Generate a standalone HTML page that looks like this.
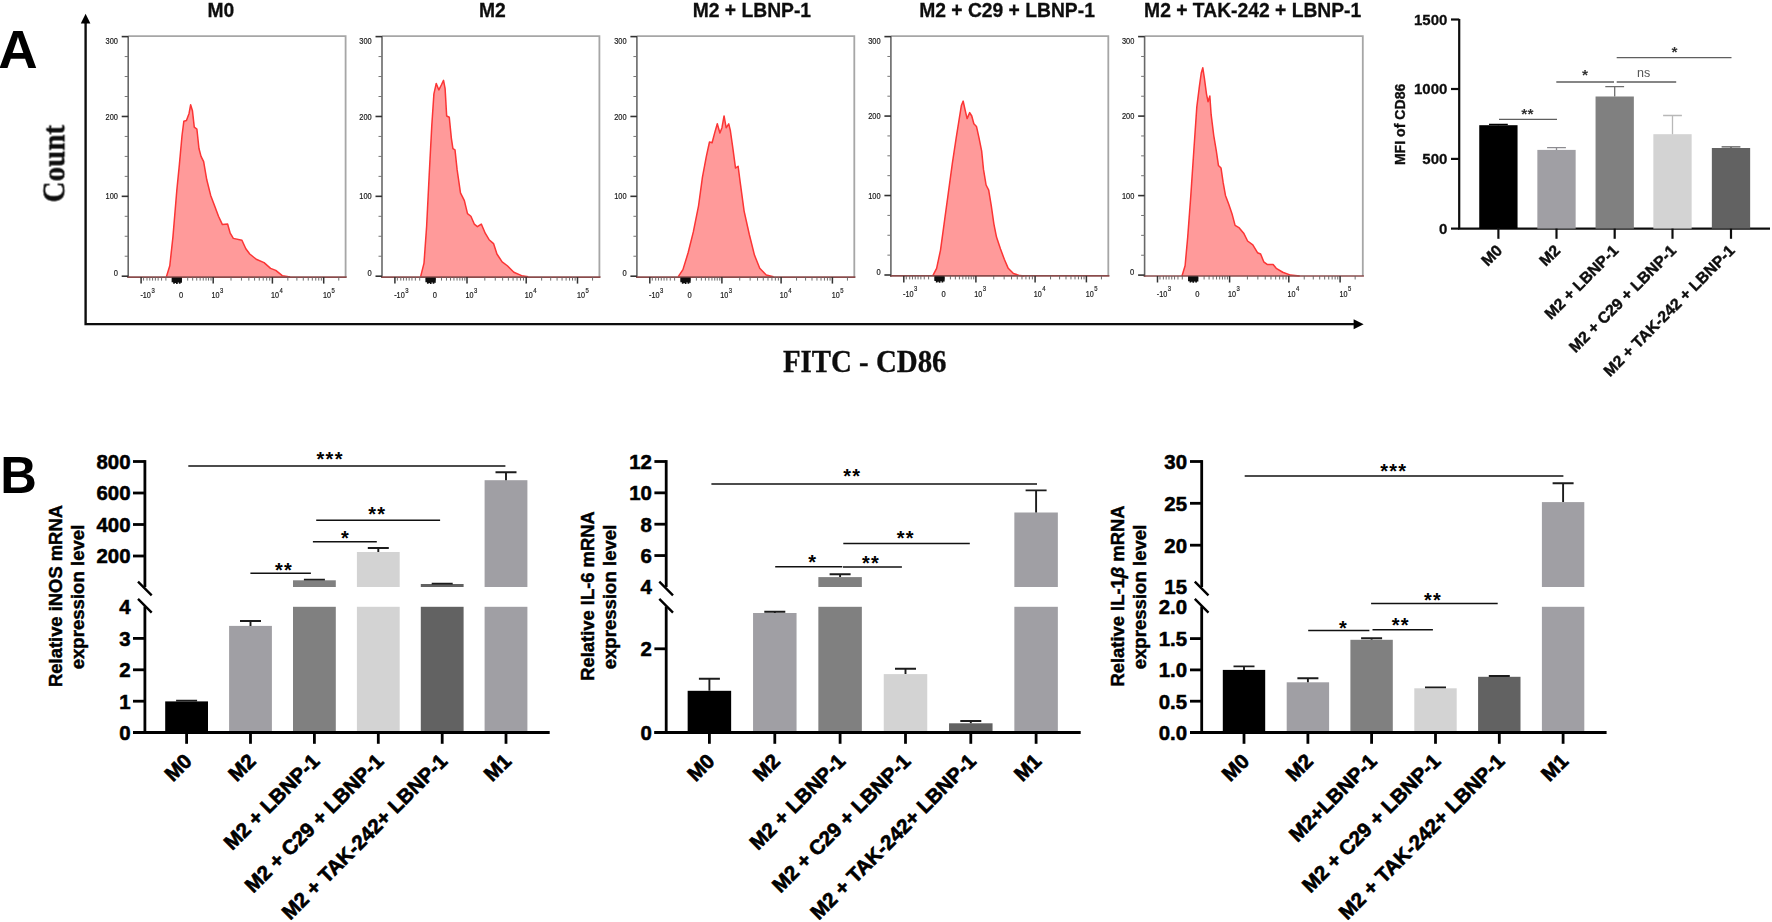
<!DOCTYPE html>
<html lang="en"><head><meta charset="utf-8"><title>Figure</title>
<style>html,body{margin:0;padding:0;background:#fff;}body{width:1772px;height:922px;overflow:hidden;}svg{display:block;}svg text{font-family:'Liberation Sans', Arial, Helvetica, sans-serif;}svg text.serif{font-family:'Liberation Serif', 'Times New Roman', Times, serif;}</style>
</head><body>
<svg width="1772" height="922" viewBox="0 0 1772 922">
<defs><filter id="soft" x="-2%" y="-2%" width="104%" height="104%"><feGaussianBlur stdDeviation="0.55"/></filter><filter id="soft2" x="-5%" y="-5%" width="110%" height="110%"><feGaussianBlur stdDeviation="0.4"/></filter></defs>
<rect width="1772" height="922" fill="#fff"/>
<text transform="translate(-1.7 68.2) scale(1.03 1)" font-size="53" font-weight="700" fill="#000">A</text>
<text transform="translate(0.3 493.1) scale(0.975 1)" font-size="52" font-weight="700" fill="#000">B</text>
<g filter="url(#soft)">
<path d="M166.41 276.67 L169.79 265.73 L172.92 237.08 L176.82 190.21 L179.43 164.17 L182.03 135.52 L183.85 121.2 L186.46 120.42 L189.06 113.39 L190.62 104.79 L192.45 110.78 L194.27 127.19 L196.88 129.01 L198.96 148.54 L201.04 156.35 L203.65 161.56 L206.77 179.79 L210.68 195.42 L214.58 205.83 L218.49 216.25 L222.4 224.58 L227.6 224.06 L230.21 233.18 L233.33 238.39 L241.93 240.21 L245.83 248.8 L249.74 254.01 L256.25 259.22 L264.06 262.6 L270.57 268.33 L275.78 270.42 L282.29 275.62 L290.1 276.93 L290.1 277.1 L166.41 277.1 Z" fill="#ff9a9a" stroke="none"/>
<path d="M128.2 36.1 H345.6 V277.1" fill="none" stroke="#a6a6a6" stroke-width="1.8"/>
<path d="M128.2 36.1 V277.9" fill="none" stroke="#686868" stroke-width="1.6"/>
<path d="M166.41 276.67 L169.79 265.73 L172.92 237.08 L176.82 190.21 L179.43 164.17 L182.03 135.52 L183.85 121.2 L186.46 120.42 L189.06 113.39 L190.62 104.79 L192.45 110.78 L194.27 127.19 L196.88 129.01 L198.96 148.54 L201.04 156.35 L203.65 161.56 L206.77 179.79 L210.68 195.42 L214.58 205.83 L218.49 216.25 L222.4 224.58 L227.6 224.06 L230.21 233.18 L233.33 238.39 L241.93 240.21 L245.83 248.8 L249.74 254.01 L256.25 259.22 L264.06 262.6 L270.57 268.33 L275.78 270.42 L282.29 275.62 L290.1 276.93" fill="none" stroke="#fb3434" stroke-width="1.5" stroke-linejoin="round"/>
<path d="M127.3 277.1 H346.7" stroke="#8a4c4c" stroke-width="1.7" fill="none"/>
<path d="M121.7 276.2 H128.2" stroke="#333" stroke-width="1.6"/>
<text x="117.9" y="276.1" font-size="8.6" text-anchor="end" textLength="4.2" lengthAdjust="spacingAndGlyphs" fill="#1a1a1a" stroke="#1a1a1a" stroke-width="0.2">0</text>
<path d="M124.7 256.23 H128.2" stroke="#777" stroke-width="1"/>
<path d="M124.7 236.27 H128.2" stroke="#777" stroke-width="1"/>
<path d="M124.7 216.3 H128.2" stroke="#777" stroke-width="1"/>
<path d="M121.7 196.33 H128.2" stroke="#333" stroke-width="1.6"/>
<text x="117.9" y="199.43" font-size="8.6" text-anchor="end" textLength="12.4" lengthAdjust="spacingAndGlyphs" fill="#1a1a1a" stroke="#1a1a1a" stroke-width="0.2">100</text>
<path d="M124.7 176.37 H128.2" stroke="#777" stroke-width="1"/>
<path d="M124.7 156.4 H128.2" stroke="#777" stroke-width="1"/>
<path d="M124.7 136.43 H128.2" stroke="#777" stroke-width="1"/>
<path d="M121.7 116.47 H128.2" stroke="#333" stroke-width="1.6"/>
<text x="117.9" y="119.57" font-size="8.6" text-anchor="end" textLength="12.4" lengthAdjust="spacingAndGlyphs" fill="#1a1a1a" stroke="#1a1a1a" stroke-width="0.2">200</text>
<path d="M124.7 96.5 H128.2" stroke="#777" stroke-width="1"/>
<path d="M124.7 76.53 H128.2" stroke="#777" stroke-width="1"/>
<path d="M124.7 56.57 H128.2" stroke="#777" stroke-width="1"/>
<path d="M121.7 36.6 H128.2" stroke="#333" stroke-width="1.6"/>
<text x="117.9" y="43.9" font-size="8.6" text-anchor="end" textLength="12.4" lengthAdjust="spacingAndGlyphs" fill="#1a1a1a" stroke="#1a1a1a" stroke-width="0.2">300</text>
<path d="M141.1 277.1 V283.6" stroke="#333" stroke-width="1.5"/>
<path d="M213.2 277.1 V283.6" stroke="#333" stroke-width="1.5"/>
<path d="M272.4 277.1 V283.6" stroke="#333" stroke-width="1.5"/>
<path d="M323.7 277.1 V283.6" stroke="#333" stroke-width="1.5"/>
<path d="M172.5 277.7 v4.6 M174 277.7 v6 M175.5 277.7 v5.2 M176.9 277.7 v6.2 M178.3 277.7 v4.8 M179.7 277.7 v6 M181.1 277.7 v5" stroke="#0c0c0c" stroke-width="1.7" fill="none"/>
<path d="M172.1 279.1 H181.7" stroke="#0c0c0c" stroke-width="2.6"/>
<path d="M143.58 277.1 V280.6" stroke="#666" stroke-width="0.95"/>
<path d="M146.99 277.1 V280.6" stroke="#666" stroke-width="0.95"/>
<path d="M149.78 277.1 V280.6" stroke="#666" stroke-width="0.95"/>
<path d="M152.57 277.1 V280.6" stroke="#666" stroke-width="0.95"/>
<path d="M155.36 277.1 V280.6" stroke="#666" stroke-width="0.95"/>
<path d="M158.15 277.1 V280.6" stroke="#666" stroke-width="0.95"/>
<path d="M161.56 277.1 V280.6" stroke="#666" stroke-width="0.95"/>
<path d="M165.9 277.1 V280.6" stroke="#666" stroke-width="0.95"/>
<path d="M187.7 277.1 V280.6" stroke="#666" stroke-width="0.95"/>
<path d="M192.67 277.1 V280.6" stroke="#666" stroke-width="0.95"/>
<path d="M196.72 277.1 V280.6" stroke="#666" stroke-width="0.95"/>
<path d="M200.14 277.1 V280.6" stroke="#666" stroke-width="0.95"/>
<path d="M203.25 277.1 V280.6" stroke="#666" stroke-width="0.95"/>
<path d="M206.05 277.1 V280.6" stroke="#666" stroke-width="0.95"/>
<path d="M208.53 277.1 V280.6" stroke="#666" stroke-width="0.95"/>
<path d="M211.02 277.1 V280.6" stroke="#666" stroke-width="0.95"/>
<path d="M231.02 277.1 V280.6" stroke="#666" stroke-width="0.95"/>
<path d="M241.45 277.1 V280.6" stroke="#666" stroke-width="0.95"/>
<path d="M248.84 277.1 V280.6" stroke="#666" stroke-width="0.95"/>
<path d="M254.58 277.1 V280.6" stroke="#666" stroke-width="0.95"/>
<path d="M259.27 277.1 V280.6" stroke="#666" stroke-width="0.95"/>
<path d="M263.23 277.1 V280.6" stroke="#666" stroke-width="0.95"/>
<path d="M266.66 277.1 V280.6" stroke="#666" stroke-width="0.95"/>
<path d="M269.69 277.1 V280.6" stroke="#666" stroke-width="0.95"/>
<path d="M287.84 277.1 V280.6" stroke="#666" stroke-width="0.95"/>
<path d="M296.88 277.1 V280.6" stroke="#666" stroke-width="0.95"/>
<path d="M303.29 277.1 V280.6" stroke="#666" stroke-width="0.95"/>
<path d="M308.26 277.1 V280.6" stroke="#666" stroke-width="0.95"/>
<path d="M312.32 277.1 V280.6" stroke="#666" stroke-width="0.95"/>
<path d="M315.75 277.1 V280.6" stroke="#666" stroke-width="0.95"/>
<path d="M318.73 277.1 V280.6" stroke="#666" stroke-width="0.95"/>
<path d="M321.35 277.1 V280.6" stroke="#666" stroke-width="0.95"/>
<path d="M338.75 277.1 V280.6" stroke="#666" stroke-width="0.95"/>
<text x="150.9" y="297.8" font-size="8.6" text-anchor="end" textLength="10.5" lengthAdjust="spacingAndGlyphs" fill="#1a1a1a" stroke="#1a1a1a" stroke-width="0.2">-10</text><text x="151.4" y="292.5" font-size="8" text-anchor="start" textLength="3.3" lengthAdjust="spacingAndGlyphs" fill="#1a1a1a" stroke="#1a1a1a" stroke-width="0.2">3</text>
<text x="181" y="297.8" font-size="8.6" text-anchor="middle" textLength="4.2" lengthAdjust="spacingAndGlyphs" fill="#1a1a1a" stroke="#1a1a1a" stroke-width="0.2">0</text>
<text x="219.6" y="297.8" font-size="8.6" text-anchor="end" textLength="8" lengthAdjust="spacingAndGlyphs" fill="#1a1a1a" stroke="#1a1a1a" stroke-width="0.2">10</text><text x="220.1" y="292.5" font-size="8" text-anchor="start" textLength="3.3" lengthAdjust="spacingAndGlyphs" fill="#1a1a1a" stroke="#1a1a1a" stroke-width="0.2">3</text>
<text x="279" y="297.8" font-size="8.6" text-anchor="end" textLength="8" lengthAdjust="spacingAndGlyphs" fill="#1a1a1a" stroke="#1a1a1a" stroke-width="0.2">10</text><text x="279.5" y="292.5" font-size="8" text-anchor="start" textLength="3.3" lengthAdjust="spacingAndGlyphs" fill="#1a1a1a" stroke="#1a1a1a" stroke-width="0.2">4</text>
<text x="331.1" y="297.8" font-size="8.6" text-anchor="end" textLength="8" lengthAdjust="spacingAndGlyphs" fill="#1a1a1a" stroke="#1a1a1a" stroke-width="0.2">10</text><text x="331.6" y="292.5" font-size="8" text-anchor="start" textLength="3.3" lengthAdjust="spacingAndGlyphs" fill="#1a1a1a" stroke="#1a1a1a" stroke-width="0.2">5</text>
<text x="220.9" y="16.5" font-size="19.3" font-weight="700" text-anchor="middle" fill="#111" stroke="#111" stroke-width="0.3">M0</text>
<path d="M420.62 276.67 L424.01 263.12 L426.61 226.67 L429.22 174.58 L431.82 125.1 L433.91 93.85 L436.25 83.44 L438.85 89.95 L441.46 84.74 L443.54 80.31 L445.1 88.65 L446.67 115.99 L449.27 117.29 L451.35 138.12 L452.92 148.54 L455 149.84 L457.08 169.38 L460.47 192.81 L464.38 200.62 L467.5 213.65 L470.89 216.25 L474.27 224.06 L477.4 226.67 L481.3 224.06 L485.21 233.18 L489.11 239.69 L493.54 243.59 L496.93 254.01 L502.14 261.82 L507.34 265.73 L513.85 272.24 L521.67 275.62 L528.18 276.67 L528.18 277.1 L420.62 277.1 Z" fill="#ff9a9a" stroke="none"/>
<path d="M382 36.1 H599.4 V277.1" fill="none" stroke="#a6a6a6" stroke-width="1.8"/>
<path d="M382 36.1 V277.9" fill="none" stroke="#686868" stroke-width="1.6"/>
<path d="M420.62 276.67 L424.01 263.12 L426.61 226.67 L429.22 174.58 L431.82 125.1 L433.91 93.85 L436.25 83.44 L438.85 89.95 L441.46 84.74 L443.54 80.31 L445.1 88.65 L446.67 115.99 L449.27 117.29 L451.35 138.12 L452.92 148.54 L455 149.84 L457.08 169.38 L460.47 192.81 L464.38 200.62 L467.5 213.65 L470.89 216.25 L474.27 224.06 L477.4 226.67 L481.3 224.06 L485.21 233.18 L489.11 239.69 L493.54 243.59 L496.93 254.01 L502.14 261.82 L507.34 265.73 L513.85 272.24 L521.67 275.62 L528.18 276.67" fill="none" stroke="#fb3434" stroke-width="1.5" stroke-linejoin="round"/>
<path d="M381.1 277.1 H600.5" stroke="#8a4c4c" stroke-width="1.7" fill="none"/>
<path d="M375.5 276.2 H382" stroke="#333" stroke-width="1.6"/>
<text x="371.7" y="276.1" font-size="8.6" text-anchor="end" textLength="4.2" lengthAdjust="spacingAndGlyphs" fill="#1a1a1a" stroke="#1a1a1a" stroke-width="0.2">0</text>
<path d="M378.5 256.23 H382" stroke="#777" stroke-width="1"/>
<path d="M378.5 236.27 H382" stroke="#777" stroke-width="1"/>
<path d="M378.5 216.3 H382" stroke="#777" stroke-width="1"/>
<path d="M375.5 196.33 H382" stroke="#333" stroke-width="1.6"/>
<text x="371.7" y="199.43" font-size="8.6" text-anchor="end" textLength="12.4" lengthAdjust="spacingAndGlyphs" fill="#1a1a1a" stroke="#1a1a1a" stroke-width="0.2">100</text>
<path d="M378.5 176.37 H382" stroke="#777" stroke-width="1"/>
<path d="M378.5 156.4 H382" stroke="#777" stroke-width="1"/>
<path d="M378.5 136.43 H382" stroke="#777" stroke-width="1"/>
<path d="M375.5 116.47 H382" stroke="#333" stroke-width="1.6"/>
<text x="371.7" y="119.57" font-size="8.6" text-anchor="end" textLength="12.4" lengthAdjust="spacingAndGlyphs" fill="#1a1a1a" stroke="#1a1a1a" stroke-width="0.2">200</text>
<path d="M378.5 96.5 H382" stroke="#777" stroke-width="1"/>
<path d="M378.5 76.53 H382" stroke="#777" stroke-width="1"/>
<path d="M378.5 56.57 H382" stroke="#777" stroke-width="1"/>
<path d="M375.5 36.6 H382" stroke="#333" stroke-width="1.6"/>
<text x="371.7" y="43.9" font-size="8.6" text-anchor="end" textLength="12.4" lengthAdjust="spacingAndGlyphs" fill="#1a1a1a" stroke="#1a1a1a" stroke-width="0.2">300</text>
<path d="M394.9 277.1 V283.6" stroke="#333" stroke-width="1.5"/>
<path d="M467 277.1 V283.6" stroke="#333" stroke-width="1.5"/>
<path d="M526.2 277.1 V283.6" stroke="#333" stroke-width="1.5"/>
<path d="M577.5 277.1 V283.6" stroke="#333" stroke-width="1.5"/>
<path d="M426.3 277.7 v4.6 M427.8 277.7 v6 M429.3 277.7 v5.2 M430.7 277.7 v6.2 M432.1 277.7 v4.8 M433.5 277.7 v6 M434.9 277.7 v5" stroke="#0c0c0c" stroke-width="1.7" fill="none"/>
<path d="M425.9 279.1 H435.5" stroke="#0c0c0c" stroke-width="2.6"/>
<path d="M397.38 277.1 V280.6" stroke="#666" stroke-width="0.95"/>
<path d="M400.79 277.1 V280.6" stroke="#666" stroke-width="0.95"/>
<path d="M403.58 277.1 V280.6" stroke="#666" stroke-width="0.95"/>
<path d="M406.37 277.1 V280.6" stroke="#666" stroke-width="0.95"/>
<path d="M409.16 277.1 V280.6" stroke="#666" stroke-width="0.95"/>
<path d="M411.95 277.1 V280.6" stroke="#666" stroke-width="0.95"/>
<path d="M415.36 277.1 V280.6" stroke="#666" stroke-width="0.95"/>
<path d="M419.7 277.1 V280.6" stroke="#666" stroke-width="0.95"/>
<path d="M441.5 277.1 V280.6" stroke="#666" stroke-width="0.95"/>
<path d="M446.47 277.1 V280.6" stroke="#666" stroke-width="0.95"/>
<path d="M450.52 277.1 V280.6" stroke="#666" stroke-width="0.95"/>
<path d="M453.94 277.1 V280.6" stroke="#666" stroke-width="0.95"/>
<path d="M457.05 277.1 V280.6" stroke="#666" stroke-width="0.95"/>
<path d="M459.85 277.1 V280.6" stroke="#666" stroke-width="0.95"/>
<path d="M462.34 277.1 V280.6" stroke="#666" stroke-width="0.95"/>
<path d="M464.82 277.1 V280.6" stroke="#666" stroke-width="0.95"/>
<path d="M484.82 277.1 V280.6" stroke="#666" stroke-width="0.95"/>
<path d="M495.25 277.1 V280.6" stroke="#666" stroke-width="0.95"/>
<path d="M502.64 277.1 V280.6" stroke="#666" stroke-width="0.95"/>
<path d="M508.38 277.1 V280.6" stroke="#666" stroke-width="0.95"/>
<path d="M513.07 277.1 V280.6" stroke="#666" stroke-width="0.95"/>
<path d="M517.03 277.1 V280.6" stroke="#666" stroke-width="0.95"/>
<path d="M520.46 277.1 V280.6" stroke="#666" stroke-width="0.95"/>
<path d="M523.49 277.1 V280.6" stroke="#666" stroke-width="0.95"/>
<path d="M541.64 277.1 V280.6" stroke="#666" stroke-width="0.95"/>
<path d="M550.68 277.1 V280.6" stroke="#666" stroke-width="0.95"/>
<path d="M557.09 277.1 V280.6" stroke="#666" stroke-width="0.95"/>
<path d="M562.06 277.1 V280.6" stroke="#666" stroke-width="0.95"/>
<path d="M566.12 277.1 V280.6" stroke="#666" stroke-width="0.95"/>
<path d="M569.55 277.1 V280.6" stroke="#666" stroke-width="0.95"/>
<path d="M572.53 277.1 V280.6" stroke="#666" stroke-width="0.95"/>
<path d="M575.15 277.1 V280.6" stroke="#666" stroke-width="0.95"/>
<path d="M592.55 277.1 V280.6" stroke="#666" stroke-width="0.95"/>
<text x="404.7" y="297.8" font-size="8.6" text-anchor="end" textLength="10.5" lengthAdjust="spacingAndGlyphs" fill="#1a1a1a" stroke="#1a1a1a" stroke-width="0.2">-10</text><text x="405.2" y="292.5" font-size="8" text-anchor="start" textLength="3.3" lengthAdjust="spacingAndGlyphs" fill="#1a1a1a" stroke="#1a1a1a" stroke-width="0.2">3</text>
<text x="434.8" y="297.8" font-size="8.6" text-anchor="middle" textLength="4.2" lengthAdjust="spacingAndGlyphs" fill="#1a1a1a" stroke="#1a1a1a" stroke-width="0.2">0</text>
<text x="473.4" y="297.8" font-size="8.6" text-anchor="end" textLength="8" lengthAdjust="spacingAndGlyphs" fill="#1a1a1a" stroke="#1a1a1a" stroke-width="0.2">10</text><text x="473.9" y="292.5" font-size="8" text-anchor="start" textLength="3.3" lengthAdjust="spacingAndGlyphs" fill="#1a1a1a" stroke="#1a1a1a" stroke-width="0.2">3</text>
<text x="532.8" y="297.8" font-size="8.6" text-anchor="end" textLength="8" lengthAdjust="spacingAndGlyphs" fill="#1a1a1a" stroke="#1a1a1a" stroke-width="0.2">10</text><text x="533.3" y="292.5" font-size="8" text-anchor="start" textLength="3.3" lengthAdjust="spacingAndGlyphs" fill="#1a1a1a" stroke="#1a1a1a" stroke-width="0.2">4</text>
<text x="584.9" y="297.8" font-size="8.6" text-anchor="end" textLength="8" lengthAdjust="spacingAndGlyphs" fill="#1a1a1a" stroke="#1a1a1a" stroke-width="0.2">10</text><text x="585.4" y="292.5" font-size="8" text-anchor="start" textLength="3.3" lengthAdjust="spacingAndGlyphs" fill="#1a1a1a" stroke="#1a1a1a" stroke-width="0.2">5</text>
<text x="492.3" y="16.5" font-size="19.3" font-weight="700" text-anchor="middle" fill="#111" stroke="#111" stroke-width="0.3">M2</text>
<path d="M678.23 276.67 L682.92 269.64 L688.12 252.71 L693.33 231.88 L698.54 205.83 L702.45 177.19 L706.35 156.35 L709.48 142.03 L712.08 142.81 L714.69 132.92 L717.29 123.8 L719.9 132.92 L721.98 127.71 L724.06 115.99 L726.15 127.71 L728.75 123.8 L730.31 130.31 L732.92 148.54 L735.52 168.07 L738.12 166.25 L740.21 182.4 L744.11 211.04 L749.32 234.48 L754.53 255.31 L759.74 268.33 L766.25 275.1 L773.54 276.67 L773.54 277.1 L678.23 277.1 Z" fill="#ff9a9a" stroke="none"/>
<path d="M636.9 36.1 H854.3 V277.1" fill="none" stroke="#a6a6a6" stroke-width="1.8"/>
<path d="M636.9 36.1 V277.9" fill="none" stroke="#686868" stroke-width="1.6"/>
<path d="M678.23 276.67 L682.92 269.64 L688.12 252.71 L693.33 231.88 L698.54 205.83 L702.45 177.19 L706.35 156.35 L709.48 142.03 L712.08 142.81 L714.69 132.92 L717.29 123.8 L719.9 132.92 L721.98 127.71 L724.06 115.99 L726.15 127.71 L728.75 123.8 L730.31 130.31 L732.92 148.54 L735.52 168.07 L738.12 166.25 L740.21 182.4 L744.11 211.04 L749.32 234.48 L754.53 255.31 L759.74 268.33 L766.25 275.1 L773.54 276.67" fill="none" stroke="#fb3434" stroke-width="1.5" stroke-linejoin="round"/>
<path d="M636 277.1 H855.4" stroke="#8a4c4c" stroke-width="1.7" fill="none"/>
<path d="M630.4 276.2 H636.9" stroke="#333" stroke-width="1.6"/>
<text x="626.6" y="276.1" font-size="8.6" text-anchor="end" textLength="4.2" lengthAdjust="spacingAndGlyphs" fill="#1a1a1a" stroke="#1a1a1a" stroke-width="0.2">0</text>
<path d="M633.4 256.23 H636.9" stroke="#777" stroke-width="1"/>
<path d="M633.4 236.27 H636.9" stroke="#777" stroke-width="1"/>
<path d="M633.4 216.3 H636.9" stroke="#777" stroke-width="1"/>
<path d="M630.4 196.33 H636.9" stroke="#333" stroke-width="1.6"/>
<text x="626.6" y="199.43" font-size="8.6" text-anchor="end" textLength="12.4" lengthAdjust="spacingAndGlyphs" fill="#1a1a1a" stroke="#1a1a1a" stroke-width="0.2">100</text>
<path d="M633.4 176.37 H636.9" stroke="#777" stroke-width="1"/>
<path d="M633.4 156.4 H636.9" stroke="#777" stroke-width="1"/>
<path d="M633.4 136.43 H636.9" stroke="#777" stroke-width="1"/>
<path d="M630.4 116.47 H636.9" stroke="#333" stroke-width="1.6"/>
<text x="626.6" y="119.57" font-size="8.6" text-anchor="end" textLength="12.4" lengthAdjust="spacingAndGlyphs" fill="#1a1a1a" stroke="#1a1a1a" stroke-width="0.2">200</text>
<path d="M633.4 96.5 H636.9" stroke="#777" stroke-width="1"/>
<path d="M633.4 76.53 H636.9" stroke="#777" stroke-width="1"/>
<path d="M633.4 56.57 H636.9" stroke="#777" stroke-width="1"/>
<path d="M630.4 36.6 H636.9" stroke="#333" stroke-width="1.6"/>
<text x="626.6" y="43.9" font-size="8.6" text-anchor="end" textLength="12.4" lengthAdjust="spacingAndGlyphs" fill="#1a1a1a" stroke="#1a1a1a" stroke-width="0.2">300</text>
<path d="M649.8 277.1 V283.6" stroke="#333" stroke-width="1.5"/>
<path d="M721.9 277.1 V283.6" stroke="#333" stroke-width="1.5"/>
<path d="M781.1 277.1 V283.6" stroke="#333" stroke-width="1.5"/>
<path d="M832.4 277.1 V283.6" stroke="#333" stroke-width="1.5"/>
<path d="M681.2 277.7 v4.6 M682.7 277.7 v6 M684.2 277.7 v5.2 M685.6 277.7 v6.2 M687 277.7 v4.8 M688.4 277.7 v6 M689.8 277.7 v5" stroke="#0c0c0c" stroke-width="1.7" fill="none"/>
<path d="M680.8 279.1 H690.4" stroke="#0c0c0c" stroke-width="2.6"/>
<path d="M652.28 277.1 V280.6" stroke="#666" stroke-width="0.95"/>
<path d="M655.69 277.1 V280.6" stroke="#666" stroke-width="0.95"/>
<path d="M658.48 277.1 V280.6" stroke="#666" stroke-width="0.95"/>
<path d="M661.27 277.1 V280.6" stroke="#666" stroke-width="0.95"/>
<path d="M664.06 277.1 V280.6" stroke="#666" stroke-width="0.95"/>
<path d="M666.85 277.1 V280.6" stroke="#666" stroke-width="0.95"/>
<path d="M670.26 277.1 V280.6" stroke="#666" stroke-width="0.95"/>
<path d="M674.6 277.1 V280.6" stroke="#666" stroke-width="0.95"/>
<path d="M696.4 277.1 V280.6" stroke="#666" stroke-width="0.95"/>
<path d="M701.37 277.1 V280.6" stroke="#666" stroke-width="0.95"/>
<path d="M705.42 277.1 V280.6" stroke="#666" stroke-width="0.95"/>
<path d="M708.84 277.1 V280.6" stroke="#666" stroke-width="0.95"/>
<path d="M711.95 277.1 V280.6" stroke="#666" stroke-width="0.95"/>
<path d="M714.75 277.1 V280.6" stroke="#666" stroke-width="0.95"/>
<path d="M717.24 277.1 V280.6" stroke="#666" stroke-width="0.95"/>
<path d="M719.72 277.1 V280.6" stroke="#666" stroke-width="0.95"/>
<path d="M739.72 277.1 V280.6" stroke="#666" stroke-width="0.95"/>
<path d="M750.15 277.1 V280.6" stroke="#666" stroke-width="0.95"/>
<path d="M757.54 277.1 V280.6" stroke="#666" stroke-width="0.95"/>
<path d="M763.28 277.1 V280.6" stroke="#666" stroke-width="0.95"/>
<path d="M767.97 277.1 V280.6" stroke="#666" stroke-width="0.95"/>
<path d="M771.93 277.1 V280.6" stroke="#666" stroke-width="0.95"/>
<path d="M775.36 277.1 V280.6" stroke="#666" stroke-width="0.95"/>
<path d="M778.39 277.1 V280.6" stroke="#666" stroke-width="0.95"/>
<path d="M796.54 277.1 V280.6" stroke="#666" stroke-width="0.95"/>
<path d="M805.58 277.1 V280.6" stroke="#666" stroke-width="0.95"/>
<path d="M811.99 277.1 V280.6" stroke="#666" stroke-width="0.95"/>
<path d="M816.96 277.1 V280.6" stroke="#666" stroke-width="0.95"/>
<path d="M821.02 277.1 V280.6" stroke="#666" stroke-width="0.95"/>
<path d="M824.45 277.1 V280.6" stroke="#666" stroke-width="0.95"/>
<path d="M827.43 277.1 V280.6" stroke="#666" stroke-width="0.95"/>
<path d="M830.05 277.1 V280.6" stroke="#666" stroke-width="0.95"/>
<path d="M847.45 277.1 V280.6" stroke="#666" stroke-width="0.95"/>
<text x="659.6" y="297.8" font-size="8.6" text-anchor="end" textLength="10.5" lengthAdjust="spacingAndGlyphs" fill="#1a1a1a" stroke="#1a1a1a" stroke-width="0.2">-10</text><text x="660.1" y="292.5" font-size="8" text-anchor="start" textLength="3.3" lengthAdjust="spacingAndGlyphs" fill="#1a1a1a" stroke="#1a1a1a" stroke-width="0.2">3</text>
<text x="689.7" y="297.8" font-size="8.6" text-anchor="middle" textLength="4.2" lengthAdjust="spacingAndGlyphs" fill="#1a1a1a" stroke="#1a1a1a" stroke-width="0.2">0</text>
<text x="728.3" y="297.8" font-size="8.6" text-anchor="end" textLength="8" lengthAdjust="spacingAndGlyphs" fill="#1a1a1a" stroke="#1a1a1a" stroke-width="0.2">10</text><text x="728.8" y="292.5" font-size="8" text-anchor="start" textLength="3.3" lengthAdjust="spacingAndGlyphs" fill="#1a1a1a" stroke="#1a1a1a" stroke-width="0.2">3</text>
<text x="787.7" y="297.8" font-size="8.6" text-anchor="end" textLength="8" lengthAdjust="spacingAndGlyphs" fill="#1a1a1a" stroke="#1a1a1a" stroke-width="0.2">10</text><text x="788.2" y="292.5" font-size="8" text-anchor="start" textLength="3.3" lengthAdjust="spacingAndGlyphs" fill="#1a1a1a" stroke="#1a1a1a" stroke-width="0.2">4</text>
<text x="839.8" y="297.8" font-size="8.6" text-anchor="end" textLength="8" lengthAdjust="spacingAndGlyphs" fill="#1a1a1a" stroke="#1a1a1a" stroke-width="0.2">10</text><text x="840.3" y="292.5" font-size="8" text-anchor="start" textLength="3.3" lengthAdjust="spacingAndGlyphs" fill="#1a1a1a" stroke="#1a1a1a" stroke-width="0.2">5</text>
<text x="751.9" y="16.5" font-size="19.3" font-weight="700" text-anchor="middle" fill="#111" stroke="#111" stroke-width="0.3">M2 + LBNP-1</text>
<path d="M932.71 275.9 L936.61 268.33 L940.52 250.1 L944.43 221.46 L948.33 192.81 L952.24 164.17 L956.15 138.12 L959.27 118.59 L961.35 105.57 L963.18 101.15 L965 109.48 L967.08 118.59 L969.69 112.6 L971.77 115.99 L973.85 123.8 L976.46 126.41 L979.06 138.12 L981.67 151.15 L983.49 169.38 L986.09 185 L988.7 190.21 L991.3 205.83 L993.91 224.06 L996.51 237.08 L1000.42 248.8 L1004.32 259.22 L1008.23 268.33 L1013.44 273.54 L1019.95 275.62 L1024.38 275.9 L1024.38 275.9 L932.71 275.9 Z" fill="#ff9a9a" stroke="none"/>
<path d="M890.9 36.1 H1108.3 V275.9" fill="none" stroke="#a6a6a6" stroke-width="1.8"/>
<path d="M890.9 36.1 V276.7" fill="none" stroke="#686868" stroke-width="1.6"/>
<path d="M932.71 275.9 L936.61 268.33 L940.52 250.1 L944.43 221.46 L948.33 192.81 L952.24 164.17 L956.15 138.12 L959.27 118.59 L961.35 105.57 L963.18 101.15 L965 109.48 L967.08 118.59 L969.69 112.6 L971.77 115.99 L973.85 123.8 L976.46 126.41 L979.06 138.12 L981.67 151.15 L983.49 169.38 L986.09 185 L988.7 190.21 L991.3 205.83 L993.91 224.06 L996.51 237.08 L1000.42 248.8 L1004.32 259.22 L1008.23 268.33 L1013.44 273.54 L1019.95 275.62 L1024.38 275.9" fill="none" stroke="#fb3434" stroke-width="1.5" stroke-linejoin="round"/>
<path d="M890 275.9 H1109.4" stroke="#8a4c4c" stroke-width="1.7" fill="none"/>
<path d="M884.4 275 H890.9" stroke="#333" stroke-width="1.6"/>
<text x="880.6" y="274.9" font-size="8.6" text-anchor="end" textLength="4.2" lengthAdjust="spacingAndGlyphs" fill="#1a1a1a" stroke="#1a1a1a" stroke-width="0.2">0</text>
<path d="M887.4 255.13 H890.9" stroke="#777" stroke-width="1"/>
<path d="M887.4 235.27 H890.9" stroke="#777" stroke-width="1"/>
<path d="M887.4 215.4 H890.9" stroke="#777" stroke-width="1"/>
<path d="M884.4 195.53 H890.9" stroke="#333" stroke-width="1.6"/>
<text x="880.6" y="198.63" font-size="8.6" text-anchor="end" textLength="12.4" lengthAdjust="spacingAndGlyphs" fill="#1a1a1a" stroke="#1a1a1a" stroke-width="0.2">100</text>
<path d="M887.4 175.67 H890.9" stroke="#777" stroke-width="1"/>
<path d="M887.4 155.8 H890.9" stroke="#777" stroke-width="1"/>
<path d="M887.4 135.93 H890.9" stroke="#777" stroke-width="1"/>
<path d="M884.4 116.07 H890.9" stroke="#333" stroke-width="1.6"/>
<text x="880.6" y="119.17" font-size="8.6" text-anchor="end" textLength="12.4" lengthAdjust="spacingAndGlyphs" fill="#1a1a1a" stroke="#1a1a1a" stroke-width="0.2">200</text>
<path d="M887.4 96.2 H890.9" stroke="#777" stroke-width="1"/>
<path d="M887.4 76.33 H890.9" stroke="#777" stroke-width="1"/>
<path d="M887.4 56.47 H890.9" stroke="#777" stroke-width="1"/>
<path d="M884.4 36.6 H890.9" stroke="#333" stroke-width="1.6"/>
<text x="880.6" y="43.9" font-size="8.6" text-anchor="end" textLength="12.4" lengthAdjust="spacingAndGlyphs" fill="#1a1a1a" stroke="#1a1a1a" stroke-width="0.2">300</text>
<path d="M903.8 275.9 V282.4" stroke="#333" stroke-width="1.5"/>
<path d="M975.9 275.9 V282.4" stroke="#333" stroke-width="1.5"/>
<path d="M1035.1 275.9 V282.4" stroke="#333" stroke-width="1.5"/>
<path d="M1086.4 275.9 V282.4" stroke="#333" stroke-width="1.5"/>
<path d="M935.2 276.5 v4.6 M936.7 276.5 v6 M938.2 276.5 v5.2 M939.6 276.5 v6.2 M941 276.5 v4.8 M942.4 276.5 v6 M943.8 276.5 v5" stroke="#0c0c0c" stroke-width="1.7" fill="none"/>
<path d="M934.8 277.9 H944.4" stroke="#0c0c0c" stroke-width="2.6"/>
<path d="M906.28 275.9 V279.4" stroke="#666" stroke-width="0.95"/>
<path d="M909.69 275.9 V279.4" stroke="#666" stroke-width="0.95"/>
<path d="M912.48 275.9 V279.4" stroke="#666" stroke-width="0.95"/>
<path d="M915.27 275.9 V279.4" stroke="#666" stroke-width="0.95"/>
<path d="M918.06 275.9 V279.4" stroke="#666" stroke-width="0.95"/>
<path d="M920.85 275.9 V279.4" stroke="#666" stroke-width="0.95"/>
<path d="M924.26 275.9 V279.4" stroke="#666" stroke-width="0.95"/>
<path d="M928.6 275.9 V279.4" stroke="#666" stroke-width="0.95"/>
<path d="M950.4 275.9 V279.4" stroke="#666" stroke-width="0.95"/>
<path d="M955.37 275.9 V279.4" stroke="#666" stroke-width="0.95"/>
<path d="M959.42 275.9 V279.4" stroke="#666" stroke-width="0.95"/>
<path d="M962.84 275.9 V279.4" stroke="#666" stroke-width="0.95"/>
<path d="M965.95 275.9 V279.4" stroke="#666" stroke-width="0.95"/>
<path d="M968.75 275.9 V279.4" stroke="#666" stroke-width="0.95"/>
<path d="M971.24 275.9 V279.4" stroke="#666" stroke-width="0.95"/>
<path d="M973.72 275.9 V279.4" stroke="#666" stroke-width="0.95"/>
<path d="M993.72 275.9 V279.4" stroke="#666" stroke-width="0.95"/>
<path d="M1004.15 275.9 V279.4" stroke="#666" stroke-width="0.95"/>
<path d="M1011.54 275.9 V279.4" stroke="#666" stroke-width="0.95"/>
<path d="M1017.28 275.9 V279.4" stroke="#666" stroke-width="0.95"/>
<path d="M1021.97 275.9 V279.4" stroke="#666" stroke-width="0.95"/>
<path d="M1025.93 275.9 V279.4" stroke="#666" stroke-width="0.95"/>
<path d="M1029.36 275.9 V279.4" stroke="#666" stroke-width="0.95"/>
<path d="M1032.39 275.9 V279.4" stroke="#666" stroke-width="0.95"/>
<path d="M1050.54 275.9 V279.4" stroke="#666" stroke-width="0.95"/>
<path d="M1059.58 275.9 V279.4" stroke="#666" stroke-width="0.95"/>
<path d="M1065.99 275.9 V279.4" stroke="#666" stroke-width="0.95"/>
<path d="M1070.96 275.9 V279.4" stroke="#666" stroke-width="0.95"/>
<path d="M1075.02 275.9 V279.4" stroke="#666" stroke-width="0.95"/>
<path d="M1078.45 275.9 V279.4" stroke="#666" stroke-width="0.95"/>
<path d="M1081.43 275.9 V279.4" stroke="#666" stroke-width="0.95"/>
<path d="M1084.05 275.9 V279.4" stroke="#666" stroke-width="0.95"/>
<path d="M1101.45 275.9 V279.4" stroke="#666" stroke-width="0.95"/>
<text x="913.6" y="296.6" font-size="8.6" text-anchor="end" textLength="10.5" lengthAdjust="spacingAndGlyphs" fill="#1a1a1a" stroke="#1a1a1a" stroke-width="0.2">-10</text><text x="914.1" y="291.3" font-size="8" text-anchor="start" textLength="3.3" lengthAdjust="spacingAndGlyphs" fill="#1a1a1a" stroke="#1a1a1a" stroke-width="0.2">3</text>
<text x="943.7" y="296.6" font-size="8.6" text-anchor="middle" textLength="4.2" lengthAdjust="spacingAndGlyphs" fill="#1a1a1a" stroke="#1a1a1a" stroke-width="0.2">0</text>
<text x="982.3" y="296.6" font-size="8.6" text-anchor="end" textLength="8" lengthAdjust="spacingAndGlyphs" fill="#1a1a1a" stroke="#1a1a1a" stroke-width="0.2">10</text><text x="982.8" y="291.3" font-size="8" text-anchor="start" textLength="3.3" lengthAdjust="spacingAndGlyphs" fill="#1a1a1a" stroke="#1a1a1a" stroke-width="0.2">3</text>
<text x="1041.7" y="296.6" font-size="8.6" text-anchor="end" textLength="8" lengthAdjust="spacingAndGlyphs" fill="#1a1a1a" stroke="#1a1a1a" stroke-width="0.2">10</text><text x="1042.2" y="291.3" font-size="8" text-anchor="start" textLength="3.3" lengthAdjust="spacingAndGlyphs" fill="#1a1a1a" stroke="#1a1a1a" stroke-width="0.2">4</text>
<text x="1093.8" y="296.6" font-size="8.6" text-anchor="end" textLength="8" lengthAdjust="spacingAndGlyphs" fill="#1a1a1a" stroke="#1a1a1a" stroke-width="0.2">10</text><text x="1094.3" y="291.3" font-size="8" text-anchor="start" textLength="3.3" lengthAdjust="spacingAndGlyphs" fill="#1a1a1a" stroke="#1a1a1a" stroke-width="0.2">5</text>
<text x="1007" y="16.5" font-size="19.3" font-weight="700" text-anchor="middle" fill="#111" stroke="#111" stroke-width="0.3">M2 + C29 + LBNP-1</text>
<path d="M1181.98 276 L1185.1 265.73 L1187.71 237.08 L1190.83 195.42 L1193.96 148.54 L1196.82 106.88 L1199.43 86.04 L1201.25 73.02 L1202.81 67.81 L1204.38 78.23 L1206.46 93.85 L1208.02 101.67 L1209.84 95.94 L1211.15 114.69 L1213.75 135.52 L1216.35 151.15 L1218.44 165.47 L1221.04 168.07 L1223.12 182.4 L1225.47 195.42 L1228.85 204.53 L1231.98 213.65 L1235.1 225.36 L1239.27 227.97 L1243.7 233.18 L1247.6 240.99 L1252.81 244.9 L1257.5 252.71 L1260.62 254.01 L1263.75 261.82 L1267.14 264.43 L1273.12 264.43 L1276.25 268.33 L1282.76 272.24 L1290.57 275.1 L1299.69 276 L1299.69 276 L1181.98 276 Z" fill="#ff9a9a" stroke="none"/>
<path d="M1144.6 36.1 H1362.8 V276" fill="none" stroke="#a6a6a6" stroke-width="1.8"/>
<path d="M1144.6 36.1 V276.8" fill="none" stroke="#686868" stroke-width="1.6"/>
<path d="M1181.98 276 L1185.1 265.73 L1187.71 237.08 L1190.83 195.42 L1193.96 148.54 L1196.82 106.88 L1199.43 86.04 L1201.25 73.02 L1202.81 67.81 L1204.38 78.23 L1206.46 93.85 L1208.02 101.67 L1209.84 95.94 L1211.15 114.69 L1213.75 135.52 L1216.35 151.15 L1218.44 165.47 L1221.04 168.07 L1223.12 182.4 L1225.47 195.42 L1228.85 204.53 L1231.98 213.65 L1235.1 225.36 L1239.27 227.97 L1243.7 233.18 L1247.6 240.99 L1252.81 244.9 L1257.5 252.71 L1260.62 254.01 L1263.75 261.82 L1267.14 264.43 L1273.12 264.43 L1276.25 268.33 L1282.76 272.24 L1290.57 275.1 L1299.69 276" fill="none" stroke="#fb3434" stroke-width="1.5" stroke-linejoin="round"/>
<path d="M1143.7 276 H1363.9" stroke="#8a4c4c" stroke-width="1.7" fill="none"/>
<path d="M1138.1 275.1 H1144.6" stroke="#333" stroke-width="1.6"/>
<text x="1134.3" y="275" font-size="8.6" text-anchor="end" textLength="4.2" lengthAdjust="spacingAndGlyphs" fill="#1a1a1a" stroke="#1a1a1a" stroke-width="0.2">0</text>
<path d="M1141.1 255.22 H1144.6" stroke="#777" stroke-width="1"/>
<path d="M1141.1 235.35 H1144.6" stroke="#777" stroke-width="1"/>
<path d="M1141.1 215.47 H1144.6" stroke="#777" stroke-width="1"/>
<path d="M1138.1 195.6 H1144.6" stroke="#333" stroke-width="1.6"/>
<text x="1134.3" y="198.7" font-size="8.6" text-anchor="end" textLength="12.4" lengthAdjust="spacingAndGlyphs" fill="#1a1a1a" stroke="#1a1a1a" stroke-width="0.2">100</text>
<path d="M1141.1 175.72 H1144.6" stroke="#777" stroke-width="1"/>
<path d="M1141.1 155.85 H1144.6" stroke="#777" stroke-width="1"/>
<path d="M1141.1 135.97 H1144.6" stroke="#777" stroke-width="1"/>
<path d="M1138.1 116.1 H1144.6" stroke="#333" stroke-width="1.6"/>
<text x="1134.3" y="119.2" font-size="8.6" text-anchor="end" textLength="12.4" lengthAdjust="spacingAndGlyphs" fill="#1a1a1a" stroke="#1a1a1a" stroke-width="0.2">200</text>
<path d="M1141.1 96.22 H1144.6" stroke="#777" stroke-width="1"/>
<path d="M1141.1 76.35 H1144.6" stroke="#777" stroke-width="1"/>
<path d="M1141.1 56.47 H1144.6" stroke="#777" stroke-width="1"/>
<path d="M1138.1 36.6 H1144.6" stroke="#333" stroke-width="1.6"/>
<text x="1134.3" y="43.9" font-size="8.6" text-anchor="end" textLength="12.4" lengthAdjust="spacingAndGlyphs" fill="#1a1a1a" stroke="#1a1a1a" stroke-width="0.2">300</text>
<path d="M1157.5 276 V282.5" stroke="#333" stroke-width="1.5"/>
<path d="M1229.6 276 V282.5" stroke="#333" stroke-width="1.5"/>
<path d="M1288.8 276 V282.5" stroke="#333" stroke-width="1.5"/>
<path d="M1340.1 276 V282.5" stroke="#333" stroke-width="1.5"/>
<path d="M1188.9 276.6 v4.6 M1190.4 276.6 v6 M1191.9 276.6 v5.2 M1193.3 276.6 v6.2 M1194.7 276.6 v4.8 M1196.1 276.6 v6 M1197.5 276.6 v5" stroke="#0c0c0c" stroke-width="1.7" fill="none"/>
<path d="M1188.5 278 H1198.1" stroke="#0c0c0c" stroke-width="2.6"/>
<path d="M1159.98 276 V279.5" stroke="#666" stroke-width="0.95"/>
<path d="M1163.39 276 V279.5" stroke="#666" stroke-width="0.95"/>
<path d="M1166.18 276 V279.5" stroke="#666" stroke-width="0.95"/>
<path d="M1168.97 276 V279.5" stroke="#666" stroke-width="0.95"/>
<path d="M1171.76 276 V279.5" stroke="#666" stroke-width="0.95"/>
<path d="M1174.55 276 V279.5" stroke="#666" stroke-width="0.95"/>
<path d="M1177.96 276 V279.5" stroke="#666" stroke-width="0.95"/>
<path d="M1182.3 276 V279.5" stroke="#666" stroke-width="0.95"/>
<path d="M1204.1 276 V279.5" stroke="#666" stroke-width="0.95"/>
<path d="M1209.07 276 V279.5" stroke="#666" stroke-width="0.95"/>
<path d="M1213.12 276 V279.5" stroke="#666" stroke-width="0.95"/>
<path d="M1216.54 276 V279.5" stroke="#666" stroke-width="0.95"/>
<path d="M1219.65 276 V279.5" stroke="#666" stroke-width="0.95"/>
<path d="M1222.45 276 V279.5" stroke="#666" stroke-width="0.95"/>
<path d="M1224.93 276 V279.5" stroke="#666" stroke-width="0.95"/>
<path d="M1227.42 276 V279.5" stroke="#666" stroke-width="0.95"/>
<path d="M1247.42 276 V279.5" stroke="#666" stroke-width="0.95"/>
<path d="M1257.85 276 V279.5" stroke="#666" stroke-width="0.95"/>
<path d="M1265.24 276 V279.5" stroke="#666" stroke-width="0.95"/>
<path d="M1270.98 276 V279.5" stroke="#666" stroke-width="0.95"/>
<path d="M1275.67 276 V279.5" stroke="#666" stroke-width="0.95"/>
<path d="M1279.63 276 V279.5" stroke="#666" stroke-width="0.95"/>
<path d="M1283.06 276 V279.5" stroke="#666" stroke-width="0.95"/>
<path d="M1286.09 276 V279.5" stroke="#666" stroke-width="0.95"/>
<path d="M1304.24 276 V279.5" stroke="#666" stroke-width="0.95"/>
<path d="M1313.28 276 V279.5" stroke="#666" stroke-width="0.95"/>
<path d="M1319.69 276 V279.5" stroke="#666" stroke-width="0.95"/>
<path d="M1324.66 276 V279.5" stroke="#666" stroke-width="0.95"/>
<path d="M1328.72 276 V279.5" stroke="#666" stroke-width="0.95"/>
<path d="M1332.15 276 V279.5" stroke="#666" stroke-width="0.95"/>
<path d="M1335.13 276 V279.5" stroke="#666" stroke-width="0.95"/>
<path d="M1337.75 276 V279.5" stroke="#666" stroke-width="0.95"/>
<path d="M1355.15 276 V279.5" stroke="#666" stroke-width="0.95"/>
<text x="1167.3" y="296.7" font-size="8.6" text-anchor="end" textLength="10.5" lengthAdjust="spacingAndGlyphs" fill="#1a1a1a" stroke="#1a1a1a" stroke-width="0.2">-10</text><text x="1167.8" y="291.4" font-size="8" text-anchor="start" textLength="3.3" lengthAdjust="spacingAndGlyphs" fill="#1a1a1a" stroke="#1a1a1a" stroke-width="0.2">3</text>
<text x="1197.4" y="296.7" font-size="8.6" text-anchor="middle" textLength="4.2" lengthAdjust="spacingAndGlyphs" fill="#1a1a1a" stroke="#1a1a1a" stroke-width="0.2">0</text>
<text x="1236" y="296.7" font-size="8.6" text-anchor="end" textLength="8" lengthAdjust="spacingAndGlyphs" fill="#1a1a1a" stroke="#1a1a1a" stroke-width="0.2">10</text><text x="1236.5" y="291.4" font-size="8" text-anchor="start" textLength="3.3" lengthAdjust="spacingAndGlyphs" fill="#1a1a1a" stroke="#1a1a1a" stroke-width="0.2">3</text>
<text x="1295.4" y="296.7" font-size="8.6" text-anchor="end" textLength="8" lengthAdjust="spacingAndGlyphs" fill="#1a1a1a" stroke="#1a1a1a" stroke-width="0.2">10</text><text x="1295.9" y="291.4" font-size="8" text-anchor="start" textLength="3.3" lengthAdjust="spacingAndGlyphs" fill="#1a1a1a" stroke="#1a1a1a" stroke-width="0.2">4</text>
<text x="1347.5" y="296.7" font-size="8.6" text-anchor="end" textLength="8" lengthAdjust="spacingAndGlyphs" fill="#1a1a1a" stroke="#1a1a1a" stroke-width="0.2">10</text><text x="1348" y="291.4" font-size="8" text-anchor="start" textLength="3.3" lengthAdjust="spacingAndGlyphs" fill="#1a1a1a" stroke="#1a1a1a" stroke-width="0.2">5</text>
<text x="1252.7" y="16.5" font-size="19.3" font-weight="700" text-anchor="middle" fill="#111" stroke="#111" stroke-width="0.3">M2 + TAK-242 + LBNP-1</text>
</g>
<g filter="url(#soft2)">
<path d="M85.6 22 V324.1 H1355" fill="none" stroke="#111" stroke-width="2.4" stroke-linejoin="miter"/>
<path d="M85.6 13.8 L90.4 23.6 L80.8 23.6 Z" fill="#000"/>
<path d="M1363.6 324.2 L1353.6 319.2 L1353.6 329.2 Z" fill="#000"/>
<text class="serif" transform="translate(64.6 163.6) rotate(-90) scale(1 1.08)" font-size="29" font-weight="700" text-anchor="middle" fill="#111" stroke="#111" stroke-width="0.35">Count</text>
<text class="serif" transform="translate(864.7 371.8) scale(1 1.07)" font-size="28.9" font-weight="700" text-anchor="middle" fill="#111" stroke="#111" stroke-width="0.3">FITC - CD86</text>
</g>
<g filter="url(#soft2)">
<path d="M1459.2 19 V228.6 H1770" fill="none" stroke="#111" stroke-width="2.2"/>
<path d="M1451 19.5 H1459.2" stroke="#111" stroke-width="2.2"/>
<text x="1447.4" y="24.9" font-size="15" font-weight="700" text-anchor="end" fill="#111" stroke="#111" stroke-width="0.3">1500</text>
<path d="M1451 89 H1459.2" stroke="#111" stroke-width="2.2"/>
<text x="1447.4" y="94.4" font-size="15" font-weight="700" text-anchor="end" fill="#111" stroke="#111" stroke-width="0.3">1000</text>
<path d="M1451 158.9 H1459.2" stroke="#111" stroke-width="2.2"/>
<text x="1447.4" y="164.3" font-size="15" font-weight="700" text-anchor="end" fill="#111" stroke="#111" stroke-width="0.3">500</text>
<path d="M1451 228.6 H1459.2" stroke="#111" stroke-width="2.2"/>
<text x="1447.4" y="234" font-size="15" font-weight="700" text-anchor="end" fill="#111" stroke="#111" stroke-width="0.3">0</text>
<rect x="1479.25" y="125.2" width="38.3" height="103.4" fill="#000000"/>
<path d="M1498.4 125.2 V124.3 M1489 124.3 H1507.8" stroke="#000" stroke-width="1.3" fill="none"/>
<path d="M1498.4 228.6 V238.8" stroke="#111" stroke-width="2.2"/>
<rect x="1537.35" y="149.9" width="38.3" height="78.7" fill="#a09fa4"/>
<path d="M1556.5 149.9 V147.6 M1547.1 147.6 H1565.9" stroke="#8c8b90" stroke-width="1.3" fill="none"/>
<path d="M1556.5 228.6 V238.8" stroke="#111" stroke-width="2.2"/>
<rect x="1595.55" y="96.5" width="38.3" height="132.1" fill="#808080"/>
<path d="M1614.7 96.5 V86.7 M1605.3 86.7 H1624.1" stroke="#6e6e6e" stroke-width="1.3" fill="none"/>
<path d="M1614.7 228.6 V238.8" stroke="#111" stroke-width="2.2"/>
<rect x="1653.35" y="134.2" width="38.3" height="94.4" fill="#d3d3d3"/>
<path d="M1672.5 134.2 V115.5 M1663.1 115.5 H1681.9" stroke="#b8b8b8" stroke-width="1.3" fill="none"/>
<path d="M1672.5 228.6 V238.8" stroke="#111" stroke-width="2.2"/>
<rect x="1711.85" y="148" width="38.3" height="80.6" fill="#626262"/>
<path d="M1731 148 V146.9 M1721.6 146.9 H1740.4" stroke="#555" stroke-width="1.3" fill="none"/>
<path d="M1731 228.6 V238.8" stroke="#111" stroke-width="2.2"/>
<path d="M1499 119.4 H1557" stroke="#5e5e5e" stroke-width="1.3" fill="none"/>
<text x="1521.29" y="118.6" font-size="15.5" font-weight="700" letter-spacing="0.17" fill="#333">**</text>
<path d="M1556.3 82 H1614" stroke="#5e5e5e" stroke-width="1.3" fill="none"/>
<text x="1581.89" y="79.9" font-size="15.5" font-weight="700" letter-spacing="0.17" fill="#333">*</text>
<path d="M1616.7 82 H1676.2" stroke="#5e5e5e" stroke-width="1.3" fill="none"/>
<text x="1643.7" y="76.5" font-size="12.5" text-anchor="middle" fill="#555">ns</text>
<path d="M1616.7 57.6 H1731.5" stroke="#5e5e5e" stroke-width="1.3" fill="none"/>
<text x="1671.49" y="56.9" font-size="15.5" font-weight="700" letter-spacing="0.17" fill="#333">*</text>
<text transform="translate(1404.6 124.4) rotate(-90)" font-size="14.1" font-weight="700" text-anchor="middle" fill="#111" stroke="#111" stroke-width="0.35">MFI of CD86</text>
<text transform="translate(1503.2 251.6) rotate(-45)" font-size="15.8" font-weight="700" text-anchor="end" fill="#111" stroke="#111" stroke-width="0.45">M0</text>
<text transform="translate(1561.3 251.6) rotate(-45)" font-size="15.8" font-weight="700" text-anchor="end" fill="#111" stroke="#111" stroke-width="0.45">M2</text>
<text transform="translate(1619.5 251.6) rotate(-45)" font-size="15.8" font-weight="700" text-anchor="end" fill="#111" stroke="#111" stroke-width="0.45">M2 + LBNP-1</text>
<text transform="translate(1677.3 251.6) rotate(-45)" font-size="15.8" font-weight="700" text-anchor="end" fill="#111" stroke="#111" stroke-width="0.45">M2 + C29 + LBNP-1</text>
<text transform="translate(1735.8 251.6) rotate(-45)" font-size="15.8" font-weight="700" text-anchor="end" fill="#111" stroke="#111" stroke-width="0.45">M2 + TAK-242 + LBNP-1</text>
</g>
<g>
<rect x="165.2" y="701.4" width="42.8" height="30.6" fill="#000000"/>
<rect x="229.1" y="625.9" width="42.8" height="106.1" fill="#a09fa4"/>
<rect x="293" y="606.8" width="42.8" height="125.2" fill="#808080"/>
<rect x="293" y="580.3" width="42.8" height="6.7" fill="#808080"/>
<rect x="356.9" y="606.8" width="42.8" height="125.2" fill="#d3d3d3"/>
<rect x="356.9" y="552" width="42.8" height="35" fill="#d3d3d3"/>
<rect x="420.8" y="606.8" width="42.8" height="125.2" fill="#626262"/>
<rect x="420.8" y="584" width="42.8" height="3" fill="#626262"/>
<rect x="484.6" y="606.8" width="42.8" height="125.2" fill="#a09fa4"/>
<rect x="484.6" y="480.2" width="42.8" height="106.8" fill="#a09fa4"/>
<path d="M186.6 701.4 V700.6 M176.1 700.6 H197.1" stroke="#1c1c1c" stroke-width="1.9" fill="none"/>
<path d="M250.5 625.9 V621 M240 621 H261" stroke="#1c1c1c" stroke-width="1.9" fill="none"/>
<path d="M314.4 580.3 V579.6 M303.9 579.6 H324.9" stroke="#1c1c1c" stroke-width="1.9" fill="none"/>
<path d="M378.3 552 V548 M367.8 548 H388.8" stroke="#1c1c1c" stroke-width="1.9" fill="none"/>
<path d="M442.2 584 V583.6 M431.7 583.6 H452.7" stroke="#1c1c1c" stroke-width="1.9" fill="none"/>
<path d="M506 480.2 V472.3 M495.5 472.3 H516.5" stroke="#1c1c1c" stroke-width="1.9" fill="none"/>
<path d="M144.9 460.1 V587" stroke="#000" stroke-width="2.8" fill="none"/>
<path d="M144.9 606.4 V732.5" stroke="#000" stroke-width="2.8" fill="none"/>
<path d="M133 732.5 H549.7" stroke="#000" stroke-width="3" fill="none"/>
<path d="M138 581.6 L151.7 595.3 M138 598.9 L151.7 612.6" stroke="#000" stroke-width="2.4" fill="none"/>
<path d="M133 461.5 H144.9" stroke="#000" stroke-width="2.8"/>
<text x="130.5" y="468.8" font-size="20.4" font-weight="700" text-anchor="end" fill="#000" stroke="#000" stroke-width="0.55">800</text>
<path d="M133 493 H144.9" stroke="#000" stroke-width="2.8"/>
<text x="130.5" y="500.3" font-size="20.4" font-weight="700" text-anchor="end" fill="#000" stroke="#000" stroke-width="0.55">600</text>
<path d="M133 524.5 H144.9" stroke="#000" stroke-width="2.8"/>
<text x="130.5" y="531.8" font-size="20.4" font-weight="700" text-anchor="end" fill="#000" stroke="#000" stroke-width="0.55">400</text>
<path d="M133 556 H144.9" stroke="#000" stroke-width="2.8"/>
<text x="130.5" y="563.3" font-size="20.4" font-weight="700" text-anchor="end" fill="#000" stroke="#000" stroke-width="0.55">200</text>
<text x="130.5" y="614.4" font-size="20.4" font-weight="700" text-anchor="end" fill="#000" stroke="#000" stroke-width="0.55">4</text>
<path d="M133 638.4 H144.9" stroke="#000" stroke-width="2.8"/>
<text x="130.5" y="645.7" font-size="20.4" font-weight="700" text-anchor="end" fill="#000" stroke="#000" stroke-width="0.55">3</text>
<path d="M133 669.8 H144.9" stroke="#000" stroke-width="2.8"/>
<text x="130.5" y="677.1" font-size="20.4" font-weight="700" text-anchor="end" fill="#000" stroke="#000" stroke-width="0.55">2</text>
<path d="M133 701.2 H144.9" stroke="#000" stroke-width="2.8"/>
<text x="130.5" y="708.5" font-size="20.4" font-weight="700" text-anchor="end" fill="#000" stroke="#000" stroke-width="0.55">1</text>
<path d="M133 732.5 H144.9" stroke="#000" stroke-width="2.8"/>
<text x="130.5" y="739.8" font-size="20.4" font-weight="700" text-anchor="end" fill="#000" stroke="#000" stroke-width="0.55">0</text>
<path d="M186.6 732.5 V743.8" stroke="#000" stroke-width="2.8"/>
<path d="M250.5 732.5 V743.8" stroke="#000" stroke-width="2.8"/>
<path d="M314.4 732.5 V743.8" stroke="#000" stroke-width="2.8"/>
<path d="M378.3 732.5 V743.8" stroke="#000" stroke-width="2.8"/>
<path d="M442.2 732.5 V743.8" stroke="#000" stroke-width="2.8"/>
<path d="M506 732.5 V743.8" stroke="#000" stroke-width="2.8"/>
<text transform="translate(61.6 596) rotate(-90)" font-size="18.4" font-weight="700" text-anchor="middle" fill="#000" stroke="#000" stroke-width="0.45">Relative iNOS mRNA</text>
<text transform="translate(83.8 597) rotate(-90)" font-size="18.6" font-weight="700" text-anchor="middle" fill="#000" stroke="#000" stroke-width="0.45">expression level</text>
<text transform="translate(193 762.4) rotate(-45)" font-size="20.4" font-weight="700" text-anchor="end" fill="#000" stroke="#000" stroke-width="0.7">M0</text>
<text transform="translate(256.9 762.4) rotate(-45)" font-size="20.4" font-weight="700" text-anchor="end" fill="#000" stroke="#000" stroke-width="0.7">M2</text>
<text transform="translate(320.8 762.4) rotate(-45)" font-size="20.4" font-weight="700" text-anchor="end" fill="#000" stroke="#000" stroke-width="0.7">M2 + LBNP-1</text>
<text transform="translate(384.7 762.4) rotate(-45)" font-size="20.4" font-weight="700" text-anchor="end" fill="#000" stroke="#000" stroke-width="0.7">M2 + C29 + LBNP-1</text>
<text transform="translate(448.6 762.4) rotate(-45)" font-size="20.4" font-weight="700" text-anchor="end" fill="#000" stroke="#000" stroke-width="0.7">M2 + TAK-242+ LBNP-1</text>
<text transform="translate(512.4 762.4) rotate(-45)" font-size="20.4" font-weight="700" text-anchor="end" fill="#000" stroke="#000" stroke-width="0.7">M1</text>
<path d="M188.3 466.1 H505.4" stroke="#111" stroke-width="1.5" fill="none"/>
<text x="316.58" y="465.78" font-size="20" font-weight="700" letter-spacing="1.25" fill="#000">***</text>
<path d="M316.2 520.3 H440.1" stroke="#111" stroke-width="1.5" fill="none"/>
<text x="368.3" y="521.08" font-size="20" font-weight="700" letter-spacing="1.25" fill="#000">**</text>
<path d="M312.9 541.8 H376.8" stroke="#111" stroke-width="1.5" fill="none"/>
<text x="340.91" y="544.68" font-size="20" font-weight="700" letter-spacing="1.25" fill="#000">*</text>
<path d="M250.4 573.3 H310.9" stroke="#111" stroke-width="1.5" fill="none"/>
<text x="275" y="576.58" font-size="20" font-weight="700" letter-spacing="1.25" fill="#000">**</text>
</g>
<g>
<rect x="687.65" y="690.8" width="43.5" height="41.2" fill="#000000"/>
<rect x="753.05" y="613" width="43.5" height="119" fill="#a09fa4"/>
<rect x="818.35" y="606.8" width="43.5" height="125.2" fill="#808080"/>
<rect x="818.35" y="577.1" width="43.5" height="9.9" fill="#808080"/>
<rect x="883.75" y="674.1" width="43.5" height="57.9" fill="#d3d3d3"/>
<rect x="949.05" y="723.3" width="43.5" height="8.7" fill="#626262"/>
<rect x="1014.35" y="606.8" width="43.5" height="125.2" fill="#a09fa4"/>
<rect x="1014.35" y="512.5" width="43.5" height="74.5" fill="#a09fa4"/>
<path d="M709.4 690.8 V678.8 M698.9 678.8 H719.9" stroke="#1c1c1c" stroke-width="1.9" fill="none"/>
<path d="M774.8 613 V611.7 M764.3 611.7 H785.3" stroke="#1c1c1c" stroke-width="1.9" fill="none"/>
<path d="M840.1 577.1 V574.3 M829.6 574.3 H850.6" stroke="#1c1c1c" stroke-width="1.9" fill="none"/>
<path d="M905.5 674.1 V668.7 M895 668.7 H916" stroke="#1c1c1c" stroke-width="1.9" fill="none"/>
<path d="M970.8 723.3 V721 M960.3 721 H981.3" stroke="#1c1c1c" stroke-width="1.9" fill="none"/>
<path d="M1036.1 512.5 V490.4 M1025.6 490.4 H1046.6" stroke="#1c1c1c" stroke-width="1.9" fill="none"/>
<path d="M666.2 460.1 V587" stroke="#000" stroke-width="2.8" fill="none"/>
<path d="M666.2 606.4 V732.5" stroke="#000" stroke-width="2.8" fill="none"/>
<path d="M654.4 732.5 H1080.7" stroke="#000" stroke-width="3" fill="none"/>
<path d="M659.3 581.6 L673 595.3 M659.3 598.9 L673 612.6" stroke="#000" stroke-width="2.4" fill="none"/>
<path d="M654.4 461.5 H666.2" stroke="#000" stroke-width="2.8"/>
<text x="651.9" y="468.8" font-size="20.4" font-weight="700" text-anchor="end" fill="#000" stroke="#000" stroke-width="0.55">12</text>
<path d="M654.4 492.85 H666.2" stroke="#000" stroke-width="2.8"/>
<text x="651.9" y="500.15" font-size="20.4" font-weight="700" text-anchor="end" fill="#000" stroke="#000" stroke-width="0.55">10</text>
<path d="M654.4 524.2 H666.2" stroke="#000" stroke-width="2.8"/>
<text x="651.9" y="531.5" font-size="20.4" font-weight="700" text-anchor="end" fill="#000" stroke="#000" stroke-width="0.55">8</text>
<path d="M654.4 555.55 H666.2" stroke="#000" stroke-width="2.8"/>
<text x="651.9" y="562.85" font-size="20.4" font-weight="700" text-anchor="end" fill="#000" stroke="#000" stroke-width="0.55">6</text>
<text x="651.9" y="594.2" font-size="20.4" font-weight="700" text-anchor="end" fill="#000" stroke="#000" stroke-width="0.55">4</text>
<path d="M654.4 648.8 H666.2" stroke="#000" stroke-width="2.8"/>
<text x="651.9" y="656.1" font-size="20.4" font-weight="700" text-anchor="end" fill="#000" stroke="#000" stroke-width="0.55">2</text>
<path d="M654.4 732.5 H666.2" stroke="#000" stroke-width="2.8"/>
<text x="651.9" y="739.8" font-size="20.4" font-weight="700" text-anchor="end" fill="#000" stroke="#000" stroke-width="0.55">0</text>
<path d="M709.4 732.5 V743.8" stroke="#000" stroke-width="2.8"/>
<path d="M774.8 732.5 V743.8" stroke="#000" stroke-width="2.8"/>
<path d="M840.1 732.5 V743.8" stroke="#000" stroke-width="2.8"/>
<path d="M905.5 732.5 V743.8" stroke="#000" stroke-width="2.8"/>
<path d="M970.8 732.5 V743.8" stroke="#000" stroke-width="2.8"/>
<path d="M1036.1 732.5 V743.8" stroke="#000" stroke-width="2.8"/>
<text transform="translate(594 596) rotate(-90)" font-size="18.4" font-weight="700" text-anchor="middle" fill="#000" stroke="#000" stroke-width="0.45">Relative IL-6 mRNA</text>
<text transform="translate(616.2 597) rotate(-90)" font-size="18.6" font-weight="700" text-anchor="middle" fill="#000" stroke="#000" stroke-width="0.45">expression level</text>
<text transform="translate(715.8 762.4) rotate(-45)" font-size="20.4" font-weight="700" text-anchor="end" fill="#000" stroke="#000" stroke-width="0.7">M0</text>
<text transform="translate(781.2 762.4) rotate(-45)" font-size="20.4" font-weight="700" text-anchor="end" fill="#000" stroke="#000" stroke-width="0.7">M2</text>
<text transform="translate(846.5 762.4) rotate(-45)" font-size="20.4" font-weight="700" text-anchor="end" fill="#000" stroke="#000" stroke-width="0.7">M2 + LBNP-1</text>
<text transform="translate(911.9 762.4) rotate(-45)" font-size="20.4" font-weight="700" text-anchor="end" fill="#000" stroke="#000" stroke-width="0.7">M2 + C29 + LBNP-1</text>
<text transform="translate(977.2 762.4) rotate(-45)" font-size="20.4" font-weight="700" text-anchor="end" fill="#000" stroke="#000" stroke-width="0.7">M2 + TAK-242+ LBNP-1</text>
<text transform="translate(1042.5 762.4) rotate(-45)" font-size="20.4" font-weight="700" text-anchor="end" fill="#000" stroke="#000" stroke-width="0.7">M1</text>
<path d="M711.4 483.9 H1037" stroke="#111" stroke-width="1.5" fill="none"/>
<text x="843.2" y="483.18" font-size="20" font-weight="700" letter-spacing="1.25" fill="#000">**</text>
<path d="M843.3 543.4 H969.8" stroke="#111" stroke-width="1.5" fill="none"/>
<text x="896.7" y="545.18" font-size="20" font-weight="700" letter-spacing="1.25" fill="#000">**</text>
<path d="M775.2 566.7 H842.3" stroke="#111" stroke-width="1.5" fill="none"/>
<text x="808.31" y="568.88" font-size="20" font-weight="700" letter-spacing="1.25" fill="#000">*</text>
<path d="M843 567.1 H901.9" stroke="#111" stroke-width="1.5" fill="none"/>
<text x="861.89" y="569.98" font-size="20" font-weight="700" letter-spacing="1.25" fill="#000">**</text>
</g>
<g>
<rect x="1222.8" y="669.9" width="42.4" height="62.1" fill="#000000"/>
<rect x="1286.7" y="682.3" width="42.4" height="49.7" fill="#a09fa4"/>
<rect x="1350.4" y="639.8" width="42.4" height="92.2" fill="#808080"/>
<rect x="1414.3" y="688.3" width="42.4" height="43.7" fill="#d3d3d3"/>
<rect x="1478.1" y="676.8" width="42.4" height="55.2" fill="#626262"/>
<rect x="1541.9" y="606.8" width="42.4" height="125.2" fill="#a09fa4"/>
<rect x="1541.9" y="502.1" width="42.4" height="84.9" fill="#a09fa4"/>
<path d="M1244 669.9 V666.4 M1233.5 666.4 H1254.5" stroke="#1c1c1c" stroke-width="1.9" fill="none"/>
<path d="M1307.9 682.3 V678.3 M1297.4 678.3 H1318.4" stroke="#1c1c1c" stroke-width="1.9" fill="none"/>
<path d="M1371.6 639.8 V638.3 M1361.1 638.3 H1382.1" stroke="#1c1c1c" stroke-width="1.9" fill="none"/>
<path d="M1435.5 688.3 V687.4 M1425 687.4 H1446" stroke="#1c1c1c" stroke-width="1.9" fill="none"/>
<path d="M1499.3 676.8 V676 M1488.8 676 H1509.8" stroke="#1c1c1c" stroke-width="1.9" fill="none"/>
<path d="M1563.1 502.1 V483.2 M1552.6 483.2 H1573.6" stroke="#1c1c1c" stroke-width="1.9" fill="none"/>
<path d="M1201.7 460.1 V587" stroke="#000" stroke-width="2.8" fill="none"/>
<path d="M1201.7 606.4 V732.5" stroke="#000" stroke-width="2.8" fill="none"/>
<path d="M1190 732.5 H1606.6" stroke="#000" stroke-width="3" fill="none"/>
<path d="M1194.8 581.6 L1208.5 595.3 M1194.8 598.9 L1208.5 612.6" stroke="#000" stroke-width="2.4" fill="none"/>
<path d="M1190 461.5 H1201.7" stroke="#000" stroke-width="2.8"/>
<text x="1187" y="468.8" font-size="20.4" font-weight="700" text-anchor="end" fill="#000" stroke="#000" stroke-width="0.55">30</text>
<path d="M1190 503.3 H1201.7" stroke="#000" stroke-width="2.8"/>
<text x="1187" y="510.6" font-size="20.4" font-weight="700" text-anchor="end" fill="#000" stroke="#000" stroke-width="0.55">25</text>
<path d="M1190 545.2 H1201.7" stroke="#000" stroke-width="2.8"/>
<text x="1187" y="552.5" font-size="20.4" font-weight="700" text-anchor="end" fill="#000" stroke="#000" stroke-width="0.55">20</text>
<text x="1187" y="594.3" font-size="20.4" font-weight="700" text-anchor="end" fill="#000" stroke="#000" stroke-width="0.55">15</text>
<text x="1187" y="614.4" font-size="20.4" font-weight="700" text-anchor="end" fill="#000" stroke="#000" stroke-width="0.55">2.0</text>
<path d="M1190 638.6 H1201.7" stroke="#000" stroke-width="2.8"/>
<text x="1187" y="645.9" font-size="20.4" font-weight="700" text-anchor="end" fill="#000" stroke="#000" stroke-width="0.55">1.5</text>
<path d="M1190 669.9 H1201.7" stroke="#000" stroke-width="2.8"/>
<text x="1187" y="677.2" font-size="20.4" font-weight="700" text-anchor="end" fill="#000" stroke="#000" stroke-width="0.55">1.0</text>
<path d="M1190 701.2 H1201.7" stroke="#000" stroke-width="2.8"/>
<text x="1187" y="708.5" font-size="20.4" font-weight="700" text-anchor="end" fill="#000" stroke="#000" stroke-width="0.55">0.5</text>
<path d="M1190 732.5 H1201.7" stroke="#000" stroke-width="2.8"/>
<text x="1187" y="739.8" font-size="20.4" font-weight="700" text-anchor="end" fill="#000" stroke="#000" stroke-width="0.55">0.0</text>
<path d="M1244 732.5 V743.8" stroke="#000" stroke-width="2.8"/>
<path d="M1307.9 732.5 V743.8" stroke="#000" stroke-width="2.8"/>
<path d="M1371.6 732.5 V743.8" stroke="#000" stroke-width="2.8"/>
<path d="M1435.5 732.5 V743.8" stroke="#000" stroke-width="2.8"/>
<path d="M1499.3 732.5 V743.8" stroke="#000" stroke-width="2.8"/>
<path d="M1563.1 732.5 V743.8" stroke="#000" stroke-width="2.8"/>
<text transform="translate(1124 596) rotate(-90)" font-size="18.4" font-weight="700" text-anchor="middle" fill="#000" stroke="#000" stroke-width="0.45">Relative IL-1<tspan font-style="italic">β</tspan> mRNA</text>
<text transform="translate(1146.2 597) rotate(-90)" font-size="18.6" font-weight="700" text-anchor="middle" fill="#000" stroke="#000" stroke-width="0.45">expression level</text>
<text transform="translate(1250.4 762.4) rotate(-45)" font-size="20.4" font-weight="700" text-anchor="end" fill="#000" stroke="#000" stroke-width="0.7">M0</text>
<text transform="translate(1314.3 762.4) rotate(-45)" font-size="20.4" font-weight="700" text-anchor="end" fill="#000" stroke="#000" stroke-width="0.7">M2</text>
<text transform="translate(1378 762.4) rotate(-45)" font-size="20.4" font-weight="700" text-anchor="end" fill="#000" stroke="#000" stroke-width="0.7">M2+LBNP-1</text>
<text transform="translate(1441.9 762.4) rotate(-45)" font-size="20.4" font-weight="700" text-anchor="end" fill="#000" stroke="#000" stroke-width="0.7">M2 + C29 + LBNP-1</text>
<text transform="translate(1505.7 762.4) rotate(-45)" font-size="20.4" font-weight="700" text-anchor="end" fill="#000" stroke="#000" stroke-width="0.7">M2 + TAK-242+ LBNP-1</text>
<text transform="translate(1569.5 762.4) rotate(-45)" font-size="20.4" font-weight="700" text-anchor="end" fill="#000" stroke="#000" stroke-width="0.7">M1</text>
<path d="M1244.7 475.9 H1563.4" stroke="#111" stroke-width="1.5" fill="none"/>
<text x="1380.18" y="477.98" font-size="20" font-weight="700" letter-spacing="1.25" fill="#000">***</text>
<path d="M1371.1 603.6 H1497.7" stroke="#111" stroke-width="1.5" fill="none"/>
<text x="1423.99" y="606.98" font-size="20" font-weight="700" letter-spacing="1.25" fill="#000">**</text>
<path d="M1308.2 630.5 H1369.4" stroke="#111" stroke-width="1.5" fill="none"/>
<text x="1339.11" y="634.58" font-size="20" font-weight="700" letter-spacing="1.25" fill="#000">*</text>
<path d="M1372.5 629.7 H1432.9" stroke="#111" stroke-width="1.5" fill="none"/>
<text x="1391.69" y="631.98" font-size="20" font-weight="700" letter-spacing="1.25" fill="#000">**</text>
</g>
</svg>
</body></html>
